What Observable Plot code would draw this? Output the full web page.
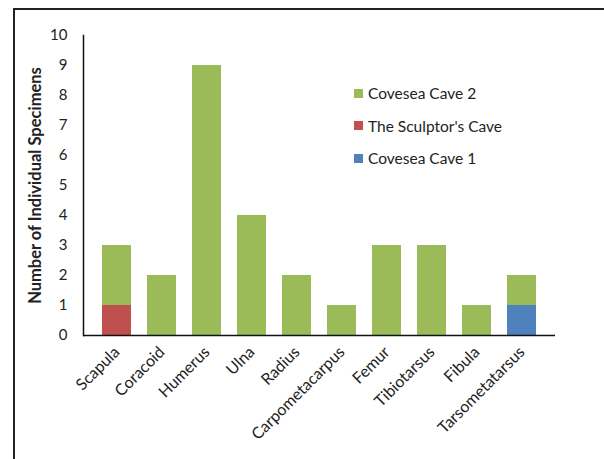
<!DOCTYPE html>
<html>
<head>
<meta charset="utf-8">
<script src="https://cdn.jsdelivr.net/npm/d3@7"></script>
<script src="https://cdn.jsdelivr.net/npm/@observablehq/plot@0.6"></script>
<style>
  html, body { margin: 0; padding: 0; background: #fff; }
  #wrap { position: relative; width: 604px; height: 459px; overflow: hidden; font-family: Lato, "Open Sans", sans-serif; }
  #frame { position: absolute; left: 13px; top: 8px; width: 700px; height: 600px; border-top: 2px solid #222; border-left: 2px solid #222; box-sizing: border-box; }
  #chart { position: absolute; left: 0; top: 0; }
  #legend { position: absolute; left: 354px; top: 77px; font-size: 15.5px; color: #222; }
  #legend .row { display: flex; align-items: center; height: 32.5px; }
  #legend .sw { width: 9px; height: 9px; margin-right: 5px; }
  svg g[aria-label="y-axis label"] text { font-weight: bold; }
</style>
</head>
<body>
<div id="wrap">
  <div id="frame"></div>
  <div id="chart"></div>
  <div id="legend"></div>
</div>
<script>
const categories = ["Scapula","Coracoid","Humerus","Ulna","Radius","Carpometacarpus","Femur","Tibiotarsus","Fibula","Tarsometatarsus"];
const seriesNames = ["Covesea Cave 1","The Sculptor's Cave","Covesea Cave 2"];
const coveseaCave1 = [0,0,0,0,0,0,0,0,0,1];
const sculptorsCave = [1,0,0,0,0,0,0,0,0,0];
const coveseaCave2 = [2,2,9,4,2,1,3,3,1,1];
const colors = ["#4F81BD","#C0504D","#9BBB59"];
const yTicks = [0,1,2,3,4,5,6,7,8,9,10];
const legendOrder = ["Covesea Cave 2","The Sculptor's Cave","Covesea Cave 1"];

const seriesValues = [coveseaCave1, sculptorsCave, coveseaCave2];
const data = [];
seriesNames.forEach((s, i) => {
  categories.forEach((c, j) => {
    if (seriesValues[i][j] > 0) data.push({category: c, series: s, value: seriesValues[i][j]});
  });
});

const chart = Plot.plot({
  width: 604,
  height: 459,
  marginLeft: 83,
  marginRight: 49,
  marginTop: 35,
  marginBottom: 124,
  style: {fontFamily: "Lato, 'Open Sans', sans-serif", fontSize: "15px", color: "#222", background: "transparent"},
  x: {domain: categories, padding: 0.36, label: null},
  y: {domain: [0, 10], label: null},
  color: {domain: seriesNames, range: colors},
  marks: [
    Plot.barY(data, Plot.stackY({x: "category", y: "value", fill: "series", order: seriesNames})),
    Plot.axisX({tickSize: 0, tickPadding: 14, tickRotate: -45, fontSize: 16, label: null}),
    Plot.axisY({ticks: yTicks, tickSize: 0, tickPadding: 16, fontSize: 15, label: null}),
    Plot.axisY({ticks: [], tickSize: 0, label: "Number of Individual Specimens", labelAnchor: "center", labelArrow: "none", labelOffset: 54, fontSize: 16.5}),
    Plot.ruleY([0], {stroke: "#111", strokeWidth: 1.5}),
    Plot.frame({anchor: "left", stroke: "#111", strokeWidth: 1.5})
  ]
});
document.getElementById("chart").appendChild(chart);

const legend = document.getElementById("legend");
legendOrder.forEach(name => {
  const row = document.createElement("div");
  row.className = "row";
  const sw = document.createElement("div");
  sw.className = "sw";
  sw.style.background = colors[seriesNames.indexOf(name)];
  const t = document.createElement("span");
  t.textContent = name;
  row.appendChild(sw);
  row.appendChild(t);
  legend.appendChild(row);
});
</script>
</body>
</html>
